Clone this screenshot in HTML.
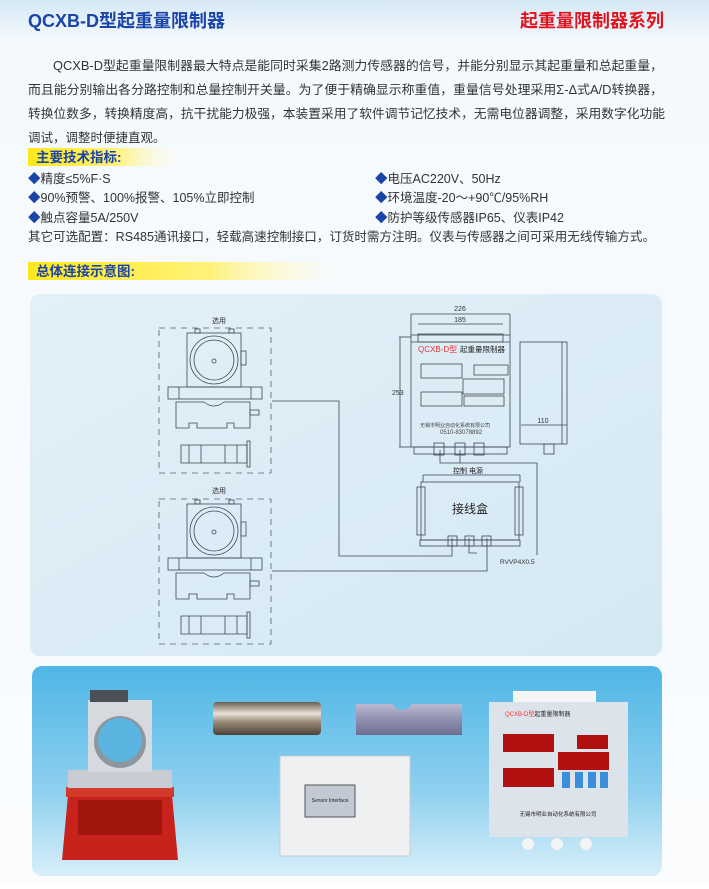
<!DOCTYPE html>
<html><head><meta charset="utf-8"><style>
html,body{margin:0;padding:0;background:#fff}
body{width:709px;height:884px;overflow:hidden;font-family:"Liberation Sans","Noto Sans CJK SC",sans-serif}
</style></head><body>
<svg width="709" height="884" viewBox="0 0 709 884" xmlns="http://www.w3.org/2000/svg" font-family="Liberation Sans, Noto Sans CJK SC, sans-serif">
<defs>
<linearGradient id="hdr" x1="0" y1="0" x2="0" y2="1"><stop offset="0" stop-color="#d6e9f6"/><stop offset="1" stop-color="#f3f8fc"/></linearGradient>
<linearGradient id="bg" x1="0" y1="0" x2="0" y2="1"><stop offset="0" stop-color="#f4f9fd"/><stop offset="1" stop-color="#fafcfe"/></linearGradient>
<linearGradient id="yb" x1="0" y1="0" x2="1" y2="0"><stop offset="0" stop-color="#ffe81a"/><stop offset="0.55" stop-color="#fff27a"/><stop offset="1" stop-color="#ffffff" stop-opacity="0"/></linearGradient>
<linearGradient id="dg" x1="0" y1="0" x2="1" y2="1"><stop offset="0" stop-color="#e2f0f8"/><stop offset="1" stop-color="#d4e8f4"/></linearGradient>
<linearGradient id="pg" x1="0" y1="0" x2="0" y2="1"><stop offset="0" stop-color="#4fb6e6"/><stop offset="0.6" stop-color="#8fd0ef"/><stop offset="1" stop-color="#d8eff9"/></linearGradient>
<linearGradient id="metal" x1="0" y1="0" x2="0" y2="1"><stop offset="0" stop-color="#6b5e50"/><stop offset="0.35" stop-color="#e8e2d6"/><stop offset="0.6" stop-color="#9a8c78"/><stop offset="1" stop-color="#4b4238"/></linearGradient>
<linearGradient id="metal2" x1="0" y1="0" x2="0" y2="1"><stop offset="0" stop-color="#b9b9cf"/><stop offset="0.5" stop-color="#8f8fb0"/><stop offset="1" stop-color="#6e6e90"/></linearGradient>
<g id="sensor" fill="none" stroke="#3c4650" stroke-width="0.8">
<rect x="0" y="0" width="112" height="145" stroke-dasharray="6,5" stroke="#55606a"/>
<rect x="28" y="5" width="54" height="54"/>
<rect x="36" y="1" width="5" height="4"/><rect x="70" y="1" width="5" height="4"/>
<circle cx="55" cy="32" r="24"/><circle cx="55" cy="32" r="20"/>
<circle cx="55" cy="33" r="2"/>
<rect x="82" y="23" width="5" height="14"/>
<rect x="9" y="59" width="94" height="12"/><line x1="20" y1="59" x2="20" y2="71"/><line x1="92" y1="59" x2="92" y2="71"/>
<path d="M17 74 H45 Q55 82 65 74 H91 V100 H75 V95 H68 V100 H38 V95 H30 V100 H17 Z"/>
<rect x="91" y="82" width="9" height="5"/>
<path d="M22 117 H88 V135 H22 Z M30 117 V135 M42 117 V135 M66 117 V135 M78 117 V135"/>
<rect x="88" y="113" width="3" height="26"/>
</g>
</defs>
<rect width="709" height="884" fill="url(#bg)"/>
<rect width="709" height="40" fill="url(#hdr)"/>
<text x="28" y="27" font-size="18" font-weight="bold" fill="#1b44a8">QCXB-D型起重量限制器</text>
<text x="520" y="27" font-size="18" font-weight="bold" fill="#e0141e">起重量限制器系列</text>
<g font-size="12.5" fill="#333">
<text x="53" y="70" textLength="610" lengthAdjust="spacingAndGlyphs">QCXB-D型起重量限制器最大特点是能同时采集2路测力传感器的信号，并能分别显示其起重量和总起重量，</text>
<text x="28" y="94" textLength="635" lengthAdjust="spacingAndGlyphs">而且能分别输出各分路控制和总量控制开关量。为了便于精确显示称重值，重量信号处理采用Σ-Δ式A/D转换器，</text>
<text x="28" y="118" textLength="637" lengthAdjust="spacingAndGlyphs">转换位数多，转换精度高，抗干扰能力极强，本装置采用了软件调节记忆技术，无需电位器调整，采用数字化功能</text>
<text x="28" y="142">调试，调整时便捷直观。</text>
</g>
<rect x="28" y="148" width="160" height="18" fill="url(#yb)"/>
<text x="36" y="162" font-size="13.5" font-weight="bold" fill="#1b44a8">主要技术指标:</text>
<g font-size="12.5" fill="#333">
<text x="28" y="183"><tspan fill="#1b44a8">◆</tspan>精度≤5%F·S</text>
<text x="28" y="202"><tspan fill="#1b44a8">◆</tspan>90%预警、100%报警、105%立即控制</text>
<text x="28" y="222"><tspan fill="#1b44a8">◆</tspan>触点容量5A/250V</text>
<text x="375" y="183"><tspan fill="#1b44a8">◆</tspan>电压AC220V、50Hz</text>
<text x="375" y="202"><tspan fill="#1b44a8">◆</tspan>环境温度-20～+90℃/95%RH</text>
<text x="375" y="222"><tspan fill="#1b44a8">◆</tspan>防护等级传感器IP65、仪表IP42</text>
<text x="28" y="241" textLength="627" lengthAdjust="spacingAndGlyphs">其它可选配置：RS485通讯接口，轻载高速控制接口，订货时需方注明。仪表与传感器之间可采用无线传输方式。</text>
</g>
<rect x="28" y="262" width="330" height="18" fill="url(#yb)"/>
<text x="36" y="276" font-size="13.5" font-weight="bold" fill="#1b44a8">总体连接示意图:</text>
<rect x="30" y="294" width="632" height="362" rx="10" fill="url(#dg)"/>
<text x="212" y="323" font-size="7" fill="#333">选用</text>
<text x="212" y="493" font-size="7" fill="#333">选用</text>
<use href="#sensor" x="159" y="328"/>
<use href="#sensor" x="159" y="499"/>
<g fill="none" stroke="#3c4650" stroke-width="0.8">
<polyline points="272,401 339,401 339,556 452,556 452,538"/>
<polyline points="272,571 487,571 487,538"/>
<polyline points="440,450 440,463 537,463 537,555"/>
<line x1="460" y1="450" x2="460" y2="463"/>
<polyline points="469,538 469,553 477,553"/>
<rect x="411" y="335" width="99" height="112"/>
<line x1="411" y1="342" x2="510" y2="342"/>
<rect x="418" y="334" width="85" height="8"/>
<line x1="411" y1="314" x2="510" y2="314"/><line x1="418" y1="324" x2="503" y2="324"/>
<line x1="411" y1="314" x2="411" y2="335"/><line x1="510" y1="314" x2="510" y2="335"/>
<line x1="399" y1="337" x2="411" y2="337"/><line x1="399" y1="447" x2="411" y2="447"/><line x1="400" y1="337" x2="400" y2="447"/>
<rect x="414" y="447" width="93" height="7"/>
<rect x="434" y="443" width="10" height="12"/><rect x="455" y="443" width="10" height="12"/><rect x="474" y="443" width="10" height="12"/>
<rect x="520" y="342" width="47" height="102"/><line x1="562" y1="342" x2="562" y2="444"/>
<rect x="544" y="444" width="10" height="10"/>
<line x1="521" y1="425" x2="567" y2="425"/>
<g stroke="#333" stroke-width="0.7">
<rect x="421" y="364" width="41" height="14"/><rect x="474" y="365" width="34" height="10"/>
<rect x="463" y="379" width="41" height="15"/><rect x="421" y="392" width="41" height="14"/>
<rect x="464" y="396" width="40" height="10"/>
</g>
<rect x="421" y="482" width="98" height="58"/>
<rect x="417" y="487" width="8" height="48"/><rect x="515" y="487" width="8" height="48"/>
<line x1="423" y1="475" x2="520" y2="475"/><line x1="423" y1="475" x2="423" y2="482"/><line x1="520" y1="475" x2="520" y2="482"/>
<rect x="420" y="540" width="100" height="6"/>
<rect x="448" y="536" width="9" height="10"/><rect x="465" y="536" width="9" height="10"/><rect x="482" y="536" width="9" height="10"/>
</g>
<text x="460" y="311" font-size="7" fill="#333" text-anchor="middle">226</text>
<text x="460" y="322" font-size="7" fill="#333" text-anchor="middle">185</text>
<text x="392" y="395" font-size="7" fill="#333">253</text>
<text x="543" y="423" font-size="7" fill="#333" text-anchor="middle">110</text>
<text x="418" y="352" font-size="8" fill="#e33">QCXB-D型</text>
<text x="460" y="352" font-size="7.5" fill="#222">起重量限制器</text>
<text x="420" y="427" font-size="5" fill="#444">无锡市明业自动化系统有限公司</text>
<text x="440" y="434" font-size="6" fill="#444">0510-83078892</text>
<text x="468" y="473" font-size="7" fill="#222" text-anchor="middle">控制  电源</text>
<text x="470" y="513" font-size="12" fill="#222" text-anchor="middle">接线盒</text>
<text x="500" y="564" font-size="6.5" fill="#333">RVVP4X0.5</text>
<rect x="32" y="666" width="630" height="210" rx="10" fill="url(#pg)"/>
<path d="M68 795 H172 L178 860 H62 Z" fill="#c8221c"/>
<rect x="78" y="800" width="84" height="35" fill="#a0160f"/>
<rect x="66" y="787" width="108" height="10" fill="#d23a2a"/>
<rect x="68" y="770" width="104" height="18" fill="#c9cdd3"/>
<rect x="88" y="700" width="64" height="72" fill="#d6dade"/>
<circle cx="120" cy="742" r="26" fill="#8e96a0"/><circle cx="120" cy="740" r="22" fill="#5bb3df"/>
<rect x="90" y="690" width="38" height="12" fill="#4b5058"/>
<rect x="213" y="702" width="108" height="33" rx="4" fill="url(#metal)"/>
<path d="M356 704 H392 Q402 716 412 704 H462 V735 H356 Z" fill="url(#metal2)"/>
<rect x="280" y="756" width="130" height="100" fill="#eef0f2" stroke="#c8ccd0"/>
<rect x="305" y="785" width="50" height="32" fill="#c3c9d2" stroke="#555"/>
<text x="330" y="802" font-size="5" fill="#223" text-anchor="middle">Sensor Interface</text>
<rect x="513" y="691" width="83" height="12" fill="#f5f5f5"/>
<rect x="489" y="702" width="139" height="135" fill="#dde3ea"/>
<text x="505" y="716" font-size="6" fill="#e33">QCXB-D型<tspan fill="#222">起重量限制器</tspan></text>
<rect x="503" y="734" width="51" height="18" fill="#b01010"/>
<rect x="577" y="735" width="31" height="14" fill="#b01010"/>
<rect x="558" y="752" width="51" height="18" fill="#b01010"/>
<rect x="503" y="768" width="51" height="19" fill="#b01010"/>
<g fill="#3a8fd8"><rect x="562" y="772" width="8" height="16"/><rect x="575" y="772" width="8" height="16"/><rect x="588" y="772" width="8" height="16"/><rect x="600" y="772" width="8" height="16"/></g>
<text x="558" y="816" font-size="5.5" fill="#222" text-anchor="middle">无锡市明业自动化系统有限公司</text>
<g fill="#f4f4f4"><circle cx="528" cy="844" r="6"/><circle cx="557" cy="844" r="6"/><circle cx="586" cy="844" r="6"/></g>
</svg>
</body></html>
